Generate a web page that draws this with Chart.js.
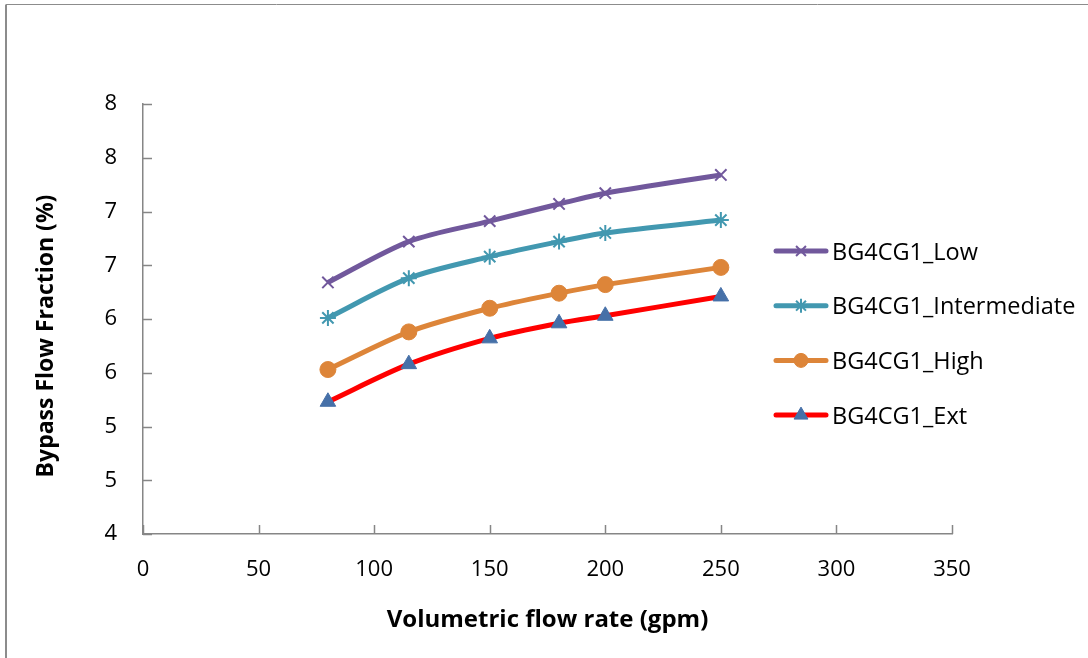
<!DOCTYPE html>
<html>
<head>
    <title>Bypass Flow Fraction</title>
    <script src="https://cdn.jsdelivr.net/npm/chart.js"></script>
    <style>
        html, body { margin: 0; padding: 0; background: #fff; }
        #wrap { width: 1088px; height: 658px; }
    </style>
</head>
<body>
<div id="wrap"><canvas id="bypassChart"></canvas></div>

<script>
    // values
    var flowRates = [80, 115, 150, 180, 200, 250];
    var lowFraction = [6.34, 6.72, 6.91, 7.07, 7.17, 7.34];
    var intermediateFraction = [6.01, 6.38, 6.58, 6.72, 6.80, 6.92];
    var highFraction = [5.53, 5.88, 6.10, 6.24, 6.32, 6.48];
    var extFraction = [5.23, 5.58, 5.82, 5.96, 6.03, 6.21];
    var seriesNames = ['BG4CG1_Low', 'BG4CG1_Intermediate', 'BG4CG1_High', 'BG4CG1_Ext'];

    var axisGray = '#868686';
    var fontName = "'Open Sans', 'DejaVu Sans', sans-serif";

    function toPoints(ys) {
        return flowRates.map(function (x, i) { return {x: x, y: ys[i]}; });
    }

    function makeSeries(name, values, lineColor, style, markerColor, radius, filled) {
        return {
            label: name,
            data: toPoints(values),
            showLine: true,
            borderColor: lineColor,
            borderWidth: 5,
            tension: 0.3,
            pointStyle: style,
            pointRadius: radius,
            pointHoverRadius: radius,
            pointBorderColor: markerColor,
            pointBackgroundColor: filled ? markerColor : 'rgba(0,0,0,0)',
            pointBorderWidth: filled ? 1 : 2
        };
    }

    // border round the chart like the Excel chart area
    var frame = {
        id: 'frame',
        beforeDraw: function (chart) {
            var c = chart.ctx;
            c.save();
            c.strokeStyle = '#8c8c8c';
            c.lineWidth = 2;
            c.beginPath();
            c.moveTo(6, 658);
            c.lineTo(6, 4.5);
            c.stroke();
            c.lineWidth = 1;
            c.beginPath();
            c.moveTo(6, 4.5);
            c.lineTo(1088, 4.5);
            c.stroke();
            c.restore();
        }
    };

    // tick marks pointing into the plot, and the rotated y title
    var insideTicks = {
        id: 'insideTicks',
        afterDraw: function (chart) {
            var c = chart.ctx;
            var xs = chart.scales.x, ys = chart.scales.y;
            c.save();
            c.strokeStyle = axisGray;
            c.lineWidth = 1.5;
            c.beginPath();
            xs.ticks.forEach(function (t) {
                var px = Math.round(xs.getPixelForValue(t.value)) + 0.5;
                c.moveTo(px, ys.bottom);
                c.lineTo(px, ys.bottom - 9);
            });
            ys.ticks.forEach(function (t) {
                var py = Math.round(ys.getPixelForValue(t.value)) + 0.5;
                c.moveTo(xs.left, py);
                c.lineTo(xs.left + 9, py);
            });
            c.stroke();

            c.translate(46, 336);
            c.rotate(-Math.PI / 2);
            c.fillStyle = '#000';
            c.font = 'bold 23px ' + fontName;
            c.textAlign = 'center';
            c.textBaseline = 'middle';
            c.fillText('Bypass Flow Fraction (%)', 0, 0);
            c.restore();
        }
    };

    // legend drawn inside the plot area on the right
    var sideLegend = {
        id: 'sideLegend',
        afterDraw: function (chart) {
            var c = chart.ctx;
            c.save();
            chart.data.datasets.forEach(function (ds, i) {
                var y = 251 + i * 54.7;
                c.strokeStyle = ds.borderColor;
                c.lineWidth = 5;
                c.lineCap = 'round';
                c.beginPath();
                c.moveTo(776, y);
                c.lineTo(826, y);
                c.stroke();
                c.fillStyle = ds.pointBackgroundColor;
                c.strokeStyle = ds.pointBorderColor;
                c.lineWidth = ds.pointBorderWidth;
                c.lineCap = 'butt';
                Chart.helpers.drawPoint(c, {
                    pointStyle: ds.pointStyle,
                    radius: ds.pointRadius - 1,
                    borderWidth: ds.pointBorderWidth,
                    rotation: 0
                }, 801, y);
                c.fillStyle = '#000';
                c.font = '23.5px ' + fontName;
                c.textAlign = 'left';
                c.textBaseline = 'middle';
                c.fillText(ds.label, 832, y + 2);
            });
            c.restore();
        }
    };

    var ctx = document.getElementById('bypassChart').getContext('2d');
    var bypassChart = new Chart(ctx, {
        type: 'scatter',
        data: {
            datasets: [
                makeSeries(seriesNames[0], lowFraction, '#71589c', 'crossRot', '#71589c', 8, false),
                makeSeries(seriesNames[1], intermediateFraction, '#4298b0', 'star', '#4298b0', 8, false),
                makeSeries(seriesNames[2], highFraction, '#dd8539', 'circle', '#dd8539', 8, true),
                makeSeries(seriesNames[3], extFraction, '#ff0000', 'triangle', '#4670a8', 9, true)
            ]
        },
        options: {
            responsive: true,
            maintainAspectRatio: false,
            animation: false,
            layout: { padding: { left: 0, right: 136, top: 104, bottom: 0 } },
            plugins: {
                legend: { display: false },
                tooltip: { enabled: false }
            },
            scales: {
                x: {
                    type: 'linear',
                    min: 0,
                    max: 350,
                    grid: { display: false, drawTicks: false },
                    border: { display: true, color: axisGray, width: 1.5 },
                    ticks: {
                        stepSize: 50,
                        color: '#000',
                        padding: 23,
                        maxRotation: 0,
                        font: { family: fontName, size: 22 }
                    },
                    title: {
                        display: true,
                        text: 'Volumetric flow rate (gpm)',
                        color: '#000',
                        font: { family: fontName, size: 24, weight: 'bold' },
                        padding: { top: 0, bottom: 23 }
                    },
                    afterFit: function (scale) { scale.height = 124; }
                },
                y: {
                    min: 4,
                    max: 8,
                    grid: { display: false, drawTicks: false },
                    border: { display: true, color: axisGray, width: 1.5 },
                    ticks: {
                        stepSize: 0.5,
                        color: '#000',
                        padding: 26,
                        font: { family: fontName, size: 22 },
                        callback: function (v) { return Math.round(v); }
                    },
                    afterFit: function (scale) { scale.width = 143; }
                }
            }
        },
        plugins: [frame, insideTicks, sideLegend]
    });
</script>
</body>
</html>
